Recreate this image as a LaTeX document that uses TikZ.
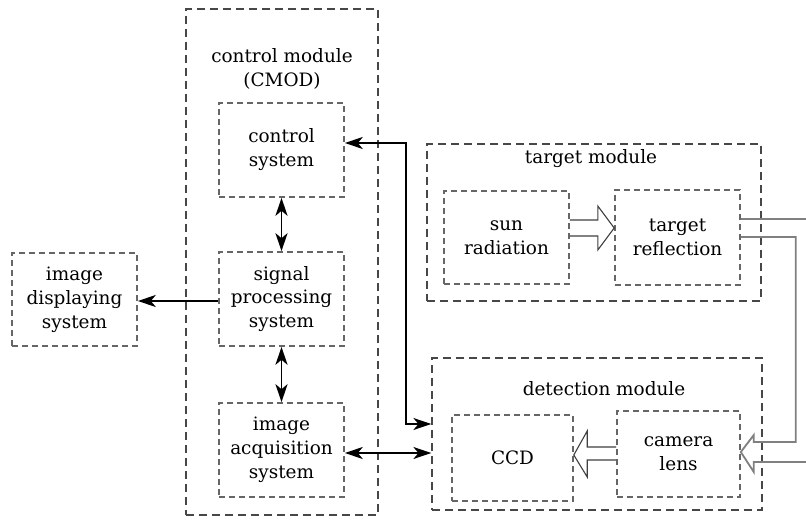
\documentclass[tikz,border=0pt]{standalone}
\usepackage{fontspec}
\setmainfont{DejaVu Serif}
\usetikzlibrary{arrows.meta,calc}
\begin{document}
\begin{tikzpicture}[x=1bp,y=-1bp,
  txt/.style={align=center, inner sep=0pt, font=\fontsize{18.5}{24}\selectfont},
  box/.style={txt, draw=black!60, line width=1.6bp, dash pattern=on 6bp off 4bp},
  module/.style={draw=black!72, line width=1.2bp, dash pattern=on 8bp off 5bp, inner sep=0pt},
  conn/.style={line width=1.6bp, black},
  tipend/.style={-{Stealth[length=18bp,width=12bp,inset=5bp]}},
  tipboth/.style={{Stealth[length=18bp,width=12bp,inset=5bp]}-{Stealth[length=18bp,width=12bp,inset=5bp]}},
  hollow/.style={draw=black!75, line width=1.1bp, line join=miter},
  hollowgray/.style={draw=black!50, line width=1.8bp, line join=miter}
]
\clip (0,0) rectangle (806,520);
\fill[white] (0,0) rectangle (806,520);

% modules
\node[module, minimum width=192bp, minimum height=506bp] (cmod) at (282,262) {};
\node[module, minimum width=334bp, minimum height=157bp] (tmod) at (594,222.5) {};
\node[module, minimum width=330bp, minimum height=152bp] (dmod) at (597,434) {};

\node[txt] (cmodlbl) at (282,69) {control module\\(CMOD)};
\node[txt] (tmodlbl) at (591,159) {target module};
\node[txt] (dmodlbl) at (604,389) {detection module};

% boxes
\node[box, minimum width=125bp, minimum height=94bp] (ctrl) at (281.5,150) {control\\system};
\node[box, minimum width=125bp, minimum height=94bp] (sig) at (281.5,299) {signal\\processing\\system};
\node[box, minimum width=125bp, minimum height=94bp] (acq) at (281.5,450) {image\\acquisition\\system};
\node[box, minimum width=125bp, minimum height=93bp] (disp) at (74.5,299.5) {image\\displaying\\system};
\node[box, minimum width=125bp, minimum height=93bp] (sun) at (506.5,237.5) {sun\\radiation};
\node[box, minimum width=125bp, minimum height=95bp] (refl) at (677.5,237.5) {target\\reflection};
\node[box, minimum width=121bp, minimum height=86bp] (ccd) at (512.5,458) {CCD};
\node[box, minimum width=123bp, minimum height=86bp] (lens) at (678.5,454) {camera\\lens};

% connectors in control module
\draw[conn, tipboth] (ctrl.south) -- (sig.north);
\draw[conn, tipboth] (sig.south) -- (acq.north);
\draw[conn, tipend] ([yshift=-2bp]sig.west) -- ([yshift=-2bp]sig.west -| disp.east);
\draw[conn, tipboth] ([yshift=7bp]ctrl.east) -- ([yshift=7bp]ctrl.east -| 406,0) -- ([yshift=10bp]dmod.west -| 406,0) -- ([yshift=10bp]dmod.west);
\draw[conn, tipboth] ([yshift=-3bp]acq.east) -- ([yshift=-3bp]acq.east -| dmod.west);

% hollow arrow sun -> reflection
\draw[hollow] ($(sun.east)+(0,-17.5)$) -- ++(28,0) -- ++(0,-14) -- ($(refl.west)+(0,-9.5)$)
  -- ($(sun.east)+(28,12.5)$) -- ++(0,-14) -- ($(sun.east)+(0,-1.5)$);

% hollow arrow lens -> CCD
\draw[hollow] ($(lens.west)+(0,-7)$) -- ($(lens.west)+(-29,-7)$) -- ($(lens.west)+(-29,-23)$)
  -- ($(ccd.east)+(0,-3)$) -- ($(lens.west)+(-29,23)$) -- ($(lens.west)+(-29,6)$) -- ($(lens.west)+(0,6)$);

% U-shaped hollow arrow reflection -> lens
\draw[hollowgray] ($(refl.east)+(0,-18.5)$) -- ($(refl.east)+(80,-18.5)$) -- ($(lens.east)+(80,8)$)
  -- ($(lens.east)+(13,8)$) -- ($(lens.east)+(13,18)$) -- ($(lens.east)+(0,-2)$)
  -- ($(lens.east)+(13,-19)$) -- ($(lens.east)+(13,-12)$) -- ($(lens.east)+(55,-12)$)
  -- ($(refl.east)+(55,-0.5)$) -- ($(refl.east)+(0,-0.5)$);
\end{tikzpicture}
\end{document}
